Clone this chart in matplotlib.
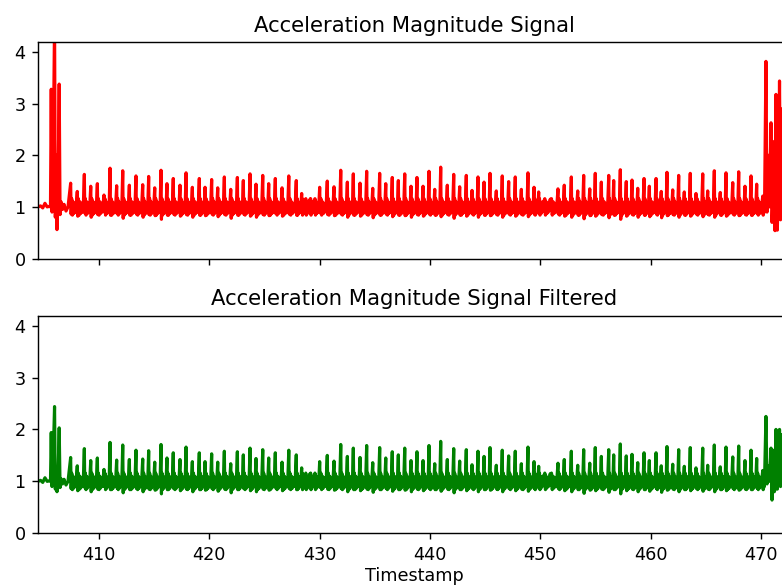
import matplotlib
matplotlib.use("Agg")
import matplotlib.pyplot as plt
import numpy as np

# flat part before the first burst (timestamp, magnitude)
flat_t = [404.47, 404.70, 404.90, 405.10, 405.30, 405.50]
flat_v = [1.00, 1.02, 0.98, 1.07, 1.00, 1.01]

# burst at the start
start_t = [405.60, 405.67, 405.74, 405.83, 405.97, 406.04, 406.12, 406.19, 406.28,
           406.39, 406.47, 406.56, 406.69, 406.83, 407.01, 407.19]
start_raw = [1.00, 3.28, 0.90, 1.50, 4.60, 0.80, 2.00, 0.56, 1.20,
             3.38, 0.85, 1.10, 0.95, 1.05, 0.92, 1.00]
start_filt = [1.00, 1.94, 0.90, 1.30, 2.44, 0.85, 1.20, 0.80, 1.05,
              2.03, 0.88, 1.05, 0.95, 1.04, 0.93, 1.00]

# walking steps: spike time, spike height, trough after spike
step_t = [407.43, 408.03, 408.67, 409.25, 409.85, 410.45, 411.00, 411.60, 412.15, 412.75,
          413.35, 413.96, 414.50, 415.05, 415.62, 416.16, 416.73, 417.34, 417.89, 418.46,
          419.09, 419.61, 420.21, 420.76, 421.36, 421.94, 422.54, 423.08, 423.69, 424.23,
          424.84, 425.38, 425.98, 426.59, 427.20, 427.88, 428.37, 428.67, 429.12, 429.49,
          430.00, 430.69, 431.30, 431.91, 432.51, 433.05, 433.66, 434.26, 434.81, 435.44,
          435.99, 436.58, 437.13, 437.71, 438.28, 438.82, 439.37, 439.91, 440.43, 440.97,
          441.57, 442.15, 442.69, 443.29, 443.81, 444.35, 444.90, 445.44, 446.01, 446.55,
          447.13, 447.73, 448.28, 448.88, 449.43, 449.85, 450.31, 450.90, 451.60, 452.17,
          452.81, 453.39, 453.93, 454.48, 454.98, 455.53, 456.20, 456.65, 457.25, 457.79,
          458.31, 458.83, 459.40, 459.88, 460.49, 460.96, 461.48, 462.00, 462.54, 463.05,
          463.59, 464.11, 464.72, 465.17, 465.77, 466.31, 466.83, 467.44, 467.98, 468.55,
          469.10, 469.61, 470.16]
step_peak = [1.46, 1.30, 1.63, 1.40, 1.45, 1.23, 1.75, 1.41, 1.70, 1.42,
             1.60, 1.43, 1.59, 1.37, 1.71, 1.45, 1.55, 1.42, 1.66, 1.38,
             1.55, 1.38, 1.53, 1.37, 1.58, 1.34, 1.57, 1.51, 1.64, 1.44,
             1.61, 1.45, 1.55, 1.37, 1.60, 1.51, 1.26, 1.12, 1.15, 1.12,
             1.38, 1.50, 1.39, 1.71, 1.48, 1.64, 1.46, 1.69, 1.36, 1.65,
             1.45, 1.57, 1.51, 1.64, 1.40, 1.57, 1.40, 1.69, 1.34, 1.77,
             1.42, 1.63, 1.39, 1.61, 1.32, 1.58, 1.48, 1.65, 1.31, 1.60,
             1.49, 1.58, 1.34, 1.66, 1.38, 1.29, 1.12, 1.15, 1.35, 1.42,
             1.58, 1.31, 1.61, 1.35, 1.65, 1.48, 1.61, 1.51, 1.72, 1.49,
             1.52, 1.36, 1.55, 1.40, 1.55, 1.30, 1.67, 1.33, 1.61, 1.29,
             1.65, 1.26, 1.64, 1.31, 1.70, 1.28, 1.66, 1.47, 1.68, 1.40,
             1.60, 1.44, 1.21]
step_low = [0.86, 0.82, 0.88, 0.80, 0.85, 0.90, 0.84, 0.87, 0.78, 0.84,
            0.86, 0.80, 0.85, 0.83, 0.76, 0.84, 0.86, 0.82, 0.85, 0.80,
            0.84, 0.83, 0.86, 0.81, 0.85, 0.78, 0.84, 0.86, 0.82, 0.80,
            0.85, 0.83, 0.87, 0.82, 0.86, 0.84, 0.90, 0.95, 0.94, 0.92,
            0.88, 0.85, 0.83, 0.86, 0.80, 0.84, 0.82, 0.85, 0.79, 0.84,
            0.86, 0.81, 0.84, 0.83, 0.80, 0.85, 0.82, 0.86, 0.84, 0.81,
            0.85, 0.78, 0.84, 0.82, 0.86, 0.80, 0.84, 0.83, 0.85, 0.80,
            0.86, 0.82, 0.85, 0.81, 0.86, 0.90, 0.94, 0.93, 0.86, 0.82,
            0.80, 0.84, 0.77, 0.83, 0.82, 0.85, 0.79, 0.84, 0.76, 0.82,
            0.85, 0.80, 0.84, 0.81, 0.86, 0.79, 0.83, 0.85, 0.80, 0.84,
            0.82, 0.86, 0.81, 0.85, 0.80, 0.84, 0.82, 0.86, 0.83, 0.85,
            0.84, 0.87, 0.90]

# burst at the end
end_t = [470.32, 470.45, 470.55, 470.68, 470.77, 470.91, 471.00, 471.09, 471.21, 471.27,
         471.36, 471.48, 471.59, 471.68, 471.77, 471.90, 472.04, 472.18, 472.36, 472.54, 472.63]
end_raw = [0.95, 3.82, 0.90, 2.00, 1.00, 2.63, 0.70, 1.30, 2.27, 0.54,
           3.18, 0.55, 1.50, 3.44, 0.75, 2.90, 0.90, 3.20, 1.00, 1.60, 1.10]
end_filt = [1.00, 2.25, 0.95, 1.30, 1.00, 1.64, 0.64, 1.60, 0.80, 0.85,
            2.00, 0.85, 1.20, 2.00, 0.90, 1.90, 0.95, 1.70, 1.00, 1.30, 1.10]

# small wiggles between two spikes (fraction of the gap, value)
wiggle_frac = [0.07, 0.16, 0.26, 0.37, 0.48, 0.60, 0.72, 0.86]
wiggle_val = [None, 1.16, 0.84, 1.10, 0.87, 1.07, 0.90, 1.05]


def build(start_v, end_v):
    t = list(flat_t) + list(start_t)
    v = list(flat_v) + list(start_v)
    nxt = step_t[1:] + [end_t[0]]
    for i in range(len(step_t)):
        gap = nxt[i] - step_t[i]
        t.append(step_t[i])
        v.append(step_peak[i])
        for f, w in zip(wiggle_frac, wiggle_val):
            t.append(step_t[i] + f * gap)
            v.append(step_low[i] if w is None else w)
    t += end_t
    v += end_v
    return np.array(t), np.array(v)


t_raw, v_raw = build(start_raw, end_raw)
t_filt, v_filt = build(start_filt, end_filt)

fig = plt.figure(figsize=(782 / 127, 587 / 127), dpi=127)
ax1 = fig.add_axes([38 / 782, 1 - 258.5 / 587, 752 / 782, 216.2 / 587])
ax2 = fig.add_axes([38 / 782, 1 - 533.3 / 587, 752 / 782, 217.6 / 587], sharex=ax1)

ax1.plot(t_raw, v_raw, color='red', lw=1.8)
ax1.set_title('Acceleration Magnitude Signal')
ax2.plot(t_filt, v_filt, color='green', lw=1.8)
ax2.set_title('Acceleration Magnitude Signal Filtered')
ax2.set_xlabel('Timestamp', labelpad=2)

for ax in (ax1, ax2):
    ax.set_xlim(404.47, 472.63)
    ax.set_ylim(0, 4.19)
    ax.set_yticks([0, 1, 2, 3, 4])
ax1.tick_params(labelbottom=False)

fig.savefig('out.png', dpi=127)
